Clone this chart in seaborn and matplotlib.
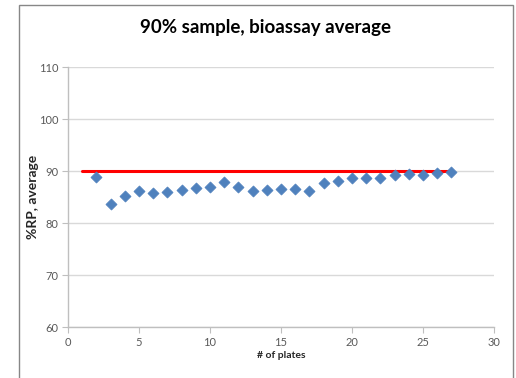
import matplotlib
matplotlib.use("Agg")
import matplotlib.pyplot as plt
import seaborn as sns
import pandas as pd
from matplotlib.patches import Rectangle

# Running average of %RP by number of plates
plates = [2, 3, 4, 5, 6, 7, 8, 9, 10, 11, 12, 13, 14, 15, 16, 17, 18, 19, 20,
          21, 22, 23, 24, 25, 26, 27]
rp_avg = [88.8, 83.6, 85.1, 86.1, 85.8, 86.0, 86.3, 86.8, 86.9, 87.8, 86.9,
          86.2, 86.4, 86.6, 86.5, 86.2, 87.6, 88.1, 88.6, 88.6, 88.6, 89.2,
          89.5, 89.3, 89.6, 89.9]

# Nominal sample level
target_x = [1, 27]
target_y = [90, 90]

x_ticks = [0, 5, 10, 15, 20, 25, 30]
y_ticks = [60, 70, 80, 90, 100, 110]

sns.set_theme(style="white")
plt.rcParams["font.family"] = ["Lato", "DejaVu Sans"]

W, H = 516, 378
fig = plt.figure(figsize=(W / 100, H / 100), dpi=100)
ax = fig.add_axes([68 / W, (H - 327) / H, (494 - 68) / W, (327 - 67) / H])

df = pd.DataFrame({"plates": plates, "rp": rp_avg})
line_df = pd.DataFrame({"x": target_x, "y": target_y})

ax.set_xlim(0, 30)
ax.set_ylim(60, 110)
ax.set_xticks(x_ticks)
ax.set_yticks(y_ticks)
ax.yaxis.grid(True, color="#D9D9D9", linewidth=1.0)
ax.set_axisbelow(True)

sns.lineplot(data=line_df, x="x", y="y", ax=ax, color="#FF0000", linewidth=2.2,
             zorder=2)
sns.scatterplot(data=df, x="plates", y="rp", ax=ax, marker="D", s=32,
                color="#4F81BD", edgecolor="#4F81BD", linewidth=0.5, zorder=3)

for side in ["top", "right"]:
    ax.spines[side].set_visible(False)
for side in ["left", "bottom"]:
    ax.spines[side].set_color("#BFBFBF")
    ax.spines[side].set_linewidth(1.0)

ax.tick_params(axis="both", which="major", direction="out", length=4,
               width=0.8, color="#BFBFBF", labelsize=8, labelcolor="#595959",
               pad=3, left=True, bottom=True)

ax.set_xlabel("# of plates", fontsize=7.5, fontweight="bold", color="#262626")
ax.xaxis.set_label_coords(0.5, -(356 - 327) / (327 - 67), transform=ax.transAxes)
ax.xaxis.label.set_va("center")
ax.set_ylabel("%RP, average", fontsize=10, fontweight="bold", color="#262626")
ax.yaxis.set_label_coords(-(68 - 33) / (494 - 68), 0.5, transform=ax.transAxes)
ax.yaxis.label.set_va("center")

fig.text(0.5 * (19 + 513) / W, 1 - 28 / H, "90% sample, bioassay average",
         ha="center", va="center", fontsize=13.5, fontweight="bold",
         color="#000000")

# Chart-area frame
fig.patches.append(Rectangle((19 / W, -0.05), (513 - 19) / W, (H - 5) / H + 0.05,
                             transform=fig.transFigure, fill=False,
                             edgecolor="#878787", linewidth=1.0))

fig.savefig("out.png", dpi=100, facecolor="white")
